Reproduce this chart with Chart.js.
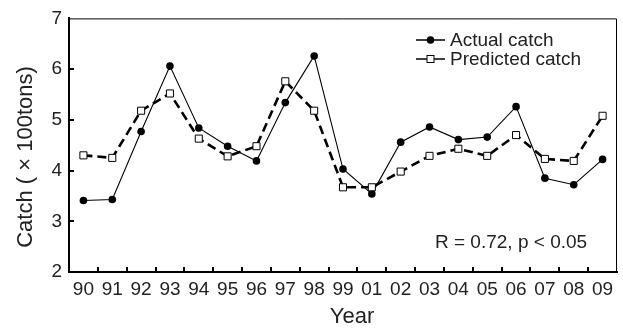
<!DOCTYPE html>
<html>
<head>
<meta charset="utf-8">
<script src="https://cdn.jsdelivr.net/npm/chart.js@4"></script>
<style>
	html, body { margin: 0; padding: 0; background: #fff; }
	#wrap { width: 623px; height: 330px; position: relative; }
</style>
</head>
<body>
<div id="wrap"><canvas id="catchChart"></canvas></div>
<script>
const years = ['90', '91', '92', '93', '94', '95', '96', '97', '98', '99', '01', '02', '03', '04', '05', '06', '07', '08', '09'];
const actualCatch = [3.41, 3.43, 4.77, 6.06, 4.84, 4.48, 4.19, 5.34, 6.26, 4.03, 3.54, 4.56, 4.86, 4.61, 4.66, 5.26, 3.85, 3.72, 4.22];
const predictedCatch = [4.30, 4.25, 5.18, 5.52, 4.63, 4.28, 4.48, 5.76, 5.18, 3.67, 3.67, 3.98, 4.29, 4.43, 4.29, 4.70, 4.23, 4.19, 5.08];
const yTicks = [2, 3, 4, 5, 6, 7];
const seriesNames = ['Actual catch', 'Predicted catch'];
const statsNote = 'R = 0.72, p < 0.05';

const FONT = '"Liberation Sans", Arial, sans-serif';

// frame, inward ticks, titles, legend and the R/p note
const extras = {
	id: 'extras',
	afterDraw(chart) {
		const ctx = chart.ctx;
		const a = chart.chartArea;
		const xs = chart.scales.x;
		const ys = chart.scales.y;
		ctx.save();
		ctx.strokeStyle = '#000';

		// thin top/right frame
		ctx.lineWidth = 1;
		ctx.beginPath();
		ctx.moveTo(a.left, a.top + 0.5);
		ctx.lineTo(a.right - 0.5, a.top + 0.5);
		ctx.lineTo(a.right - 0.5, a.bottom);
		ctx.stroke();

		// inward ticks
		ctx.lineWidth = 2;
		ctx.beginPath();
		yTicks.slice(1, -1).forEach((v) => {
			const y = Math.round(ys.getPixelForValue(v));
			ctx.moveTo(a.left, y);
			ctx.lineTo(a.left + 5, y);
		});
		const step = xs.getPixelForValue(1) - xs.getPixelForValue(0);
		for (let i = 0; i < years.length - 1; i++) {
			const x = Math.round(xs.getPixelForValue(i) + step / 2);
			ctx.moveTo(x, a.bottom);
			ctx.lineTo(x, a.bottom - 5);
		}
		ctx.stroke();

		ctx.fillStyle = '#222';
		ctx.textBaseline = 'middle';

		// axis titles
		ctx.font = '22px ' + FONT;
		ctx.textAlign = 'center';
		ctx.fillText('Year', 352, 317);
		ctx.save();
		ctx.translate(26, 157);
		ctx.rotate(-Math.PI / 2);
		ctx.fillText('Catch ( \u00d7 100tons)', 0, 0);
		ctx.restore();

		// legend
		ctx.font = '19px ' + FONT;
		ctx.textAlign = 'left';
		const rows = [40, 59];
		rows.forEach((y, i) => {
			ctx.lineWidth = 1.5;
			ctx.beginPath();
			ctx.moveTo(416, y);
			ctx.lineTo(445, y);
			ctx.stroke();
			if (i === 0) {
				ctx.fillStyle = '#000';
				ctx.beginPath();
				ctx.arc(430.5, y, 3.8, 0, Math.PI * 2);
				ctx.fill();
			} else {
				ctx.fillStyle = '#fff';
				ctx.lineWidth = 1;
				ctx.fillRect(427, y - 3.5, 7, 7);
				ctx.strokeRect(427, y - 3.5, 7, 7);
			}
			ctx.fillStyle = '#222';
			ctx.fillText(seriesNames[i], 450, y + 1);
		});

		// note
		ctx.fillText(statsNote, 435, 243);
		ctx.restore();
	},
};

new Chart(document.getElementById('catchChart'), {
	type: 'line',
	data: {
		labels: years,
		datasets: [
			{
				label: seriesNames[1],
				data: predictedCatch,
				borderColor: '#000',
				borderWidth: 2.6,
				borderDash: [9, 5],
				pointStyle: 'rect',
				pointRadius: 5,
				pointBorderWidth: 1,
				pointBackgroundColor: '#fff',
				pointBorderColor: '#000',
				tension: 0,
			},
			{
				label: seriesNames[0],
				data: actualCatch,
				borderColor: '#000',
				borderWidth: 1.1,
				pointStyle: 'circle',
				pointRadius: 3.8,
				pointBorderWidth: 0,
				pointBackgroundColor: '#000',
				tension: 0,
			},
		],
	},
	options: {
		responsive: true,
		maintainAspectRatio: false,
		animation: false,
		layout: { padding: { top: 17, right: 6, left: 0, bottom: 0 } },
		plugins: {
			legend: { display: false },
			tooltip: { enabled: false },
		},
		scales: {
			x: {
				type: 'category',
				offset: true,
				grid: { display: false, drawTicks: false },
				border: { color: '#000', width: 2 },
				ticks: {
					padding: 6,
					color: '#222',
					font: { size: 19, family: FONT },
					maxRotation: 0,
					autoSkip: false,
				},
				afterFit: (s) => { s.height = 58; },
			},
			y: {
				min: 2,
				max: 7,
				afterBuildTicks: (s) => { s.ticks = yTicks.map((v) => ({ value: v })); },
				grid: { display: false, drawTicks: false },
				border: { color: '#000', width: 2 },
				ticks: {
					padding: 7,
					color: '#222',
					font: { size: 19, family: FONT },
				},
				afterFit: (s) => { s.width = 69; },
			},
		},
	},
	plugins: [extras],
});
</script>
</body>
</html>
